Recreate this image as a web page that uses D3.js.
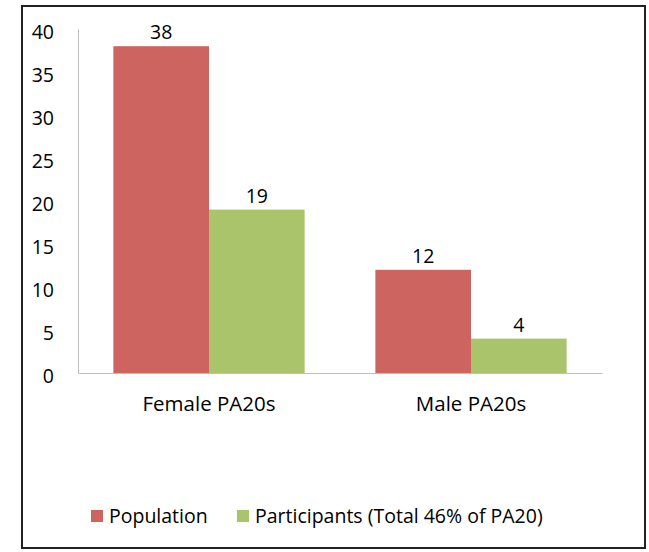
<!DOCTYPE html>
<html lang="en">
<head>
<meta charset="utf-8" />
<title>PA20 participation</title>
<style>
    body { margin: 0; background: #fff; }
    text { font-family: "Open Sans", Lato, sans-serif; fill: #000; }
</style>
</head>
<body>
<svg id="chart"></svg>
<script src="https://cdn.jsdelivr.net/npm/d3@7"></script>
<script>
    // chart data
    const categories = ["Female PA20s", "Male PA20s"];
    const seriesNames = ["Population", "Participants (Total 46% of PA20)"];
    const population = [38, 12];
    const participants = [19, 4];
    const yTicks = [0, 5, 10, 15, 20, 25, 30, 35, 40];

    const colors = ["#cd645f", "#a9c46b"];
    const width = 649, height = 552;
    const margin = { top: 29, left: 78, right: 47, bottom: 179 };
    const fontSize = "19.5px";

    const svg = d3.select("#chart").attr("width", width).attr("height", height);

    // outer frame
    svg.append("rect")
        .attr("x", 22).attr("y", 6)
        .attr("width", 623).attr("height", 542)
        .attr("fill", "none").attr("stroke", "#222").attr("stroke-width", 2);

    const x0 = d3.scaleBand()
        .domain(categories)
        .range([margin.left, width - margin.right])
        .paddingInner(0.27).paddingOuter(0.135);
    const x1 = d3.scaleBand().domain(seriesNames).range([0, x0.bandwidth()]);
    const y = d3.scaleLinear().domain([0, 40]).range([height - margin.bottom, margin.top]);

    const rows = categories.map((c, i) => ({ cat: c, vals: [population[i], participants[i]] }));

    const g = svg.append("g");
    const groups = g.selectAll("g.cat").data(rows).enter().append("g")
        .attr("transform", d => `translate(${x0(d.cat)},0)`);

    groups.selectAll("rect").data(d => d.vals.map((v, k) => ({ v, k }))).enter().append("rect")
        .attr("x", d => x1(seriesNames[d.k]))
        .attr("width", x1.bandwidth())
        .attr("y", d => y(d.v))
        .attr("height", d => y(0) - y(d.v))
        .attr("fill", d => colors[d.k]);

    groups.selectAll("text.val").data(d => d.vals.map((v, k) => ({ v, k }))).enter().append("text")
        .attr("class", "val")
        .attr("x", d => x1(seriesNames[d.k]) + x1.bandwidth() / 2)
        .attr("y", d => y(d.v) - 7)
        .attr("text-anchor", "middle")
        .style("font-size", fontSize)
        .text(d => d.v);

    // y axis
    const yAxis = d3.axisLeft(y).tickValues(yTicks).tickSize(0).tickPadding(24);
    const ya = svg.append("g").attr("transform", `translate(${margin.left},0)`).call(yAxis);
    ya.select(".domain").attr("stroke", "#bfbfbf");
    ya.selectAll("text").style("font-size", fontSize).attr("dy", "0.5em").attr("fill", "#000");

    // x axis
    const xAxis = d3.axisBottom(x0).tickSize(0).tickPadding(23);
    const xa = svg.append("g").attr("transform", `translate(0,${y(0)})`).call(xAxis);
    xa.select(".domain").attr("stroke", "#bfbfbf");
    xa.selectAll("text").style("font-size", "20.5px").attr("fill", "#000");

    // legend
    const legendX = [91, 237];
    const lg = svg.append("g").selectAll("g").data(seriesNames).enter().append("g")
        .attr("transform", (d, i) => `translate(${legendX[i]},510)`);
    lg.append("rect").attr("width", 12).attr("height", 12).attr("fill", (d, i) => colors[i]);
    lg.append("text").attr("x", 18).attr("y", 6).attr("dy", "0.35em")
        .style("font-size", fontSize).text(d => d);
</script>
</body>
</html>
